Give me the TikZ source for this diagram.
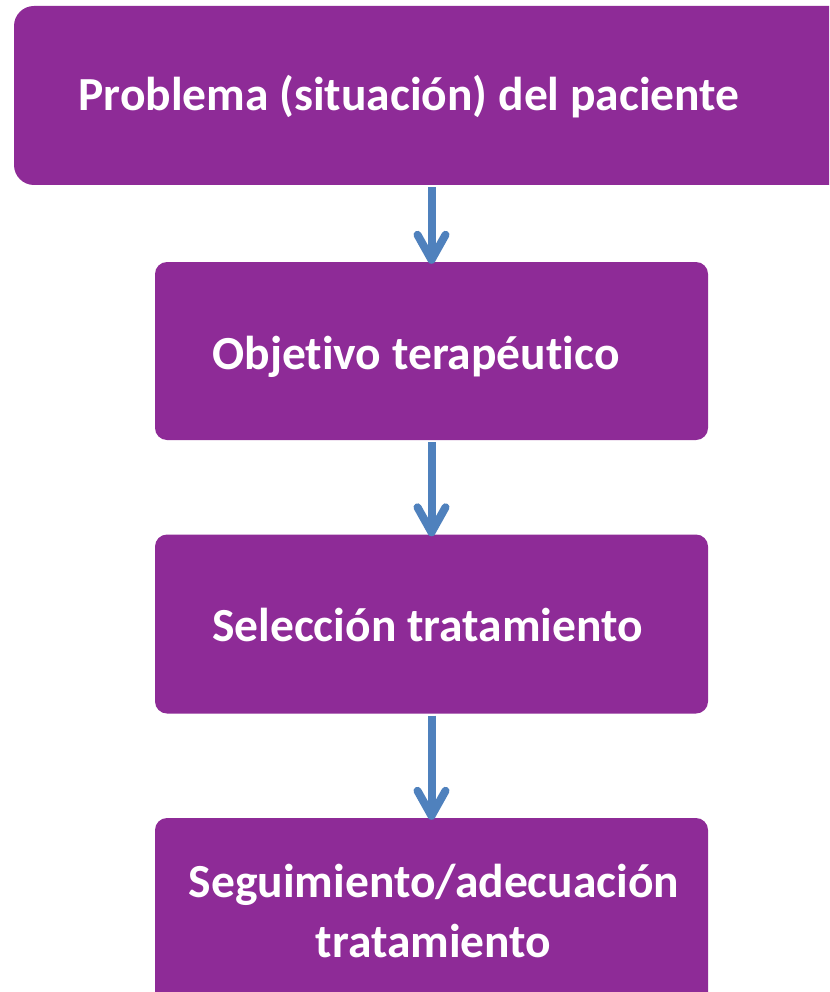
\documentclass[tikz,border=0pt]{standalone}
\usepackage{fontspec}
\setmainfont{Carlito}[Ligatures=NoCommon]
\usetikzlibrary{arrows.meta}
\definecolor{boxpurple}{RGB}{142,43,151}
\definecolor{arrowblue}{RGB}{79,129,189}
\begin{document}
\begin{tikzpicture}[x=1pt,y=-1pt,
  box/.style={fill=boxpurple, draw=none, rounded corners=12pt, inner sep=0pt},
  label/.style={text=white, font=\bfseries\fontsize{47.5}{60}\selectfont, anchor=base, inner sep=0pt},
  conn/.style={draw=arrowblue, line width=8pt, -{Straight Barb[length=25pt,width=28pt,round]}}]
\useasboundingbox (0,0) rectangle (829,992);
\clip (0,0) rectangle (829,992);
\fill[white] (0,0) rectangle (829,992);
\node[box, rounded corners=20pt, minimum width=836pt, minimum height=179pt] (b1) at (432,95.5) {};
\node[box, minimum width=553pt, minimum height=178pt] (b2) at (431.5,351) {};
\node[box, minimum width=553pt, minimum height=179pt] (b3) at (431.5,624) {};
\node[box, minimum width=553pt, minimum height=192pt] (b4) at (431.5,914) {};
\node[label] (t1) at (409,111) {Problema (situación) del paciente};
\node[label] (t2) at (416,369) {Objetivo terapéutico};
\node[label] (t3) at (427.5,641) {Selección tratamiento};
\node[label] (t4) at (434,897) {Seguimiento/adecuación};
\node[label] (t5) at (433.5,957) {tratamiento};
\draw[conn] ([yshift=-2pt]b2.north |- b1.south) -- ([yshift=-2pt]b2.north);
\draw[conn] ([yshift=-2pt]b3.north |- b2.south) -- ([yshift=-2pt]b3.north);
\draw[conn] ([yshift=-2pt]b4.north |- b3.south) -- ([yshift=-2pt]b4.north);
\end{tikzpicture}
\end{document}
